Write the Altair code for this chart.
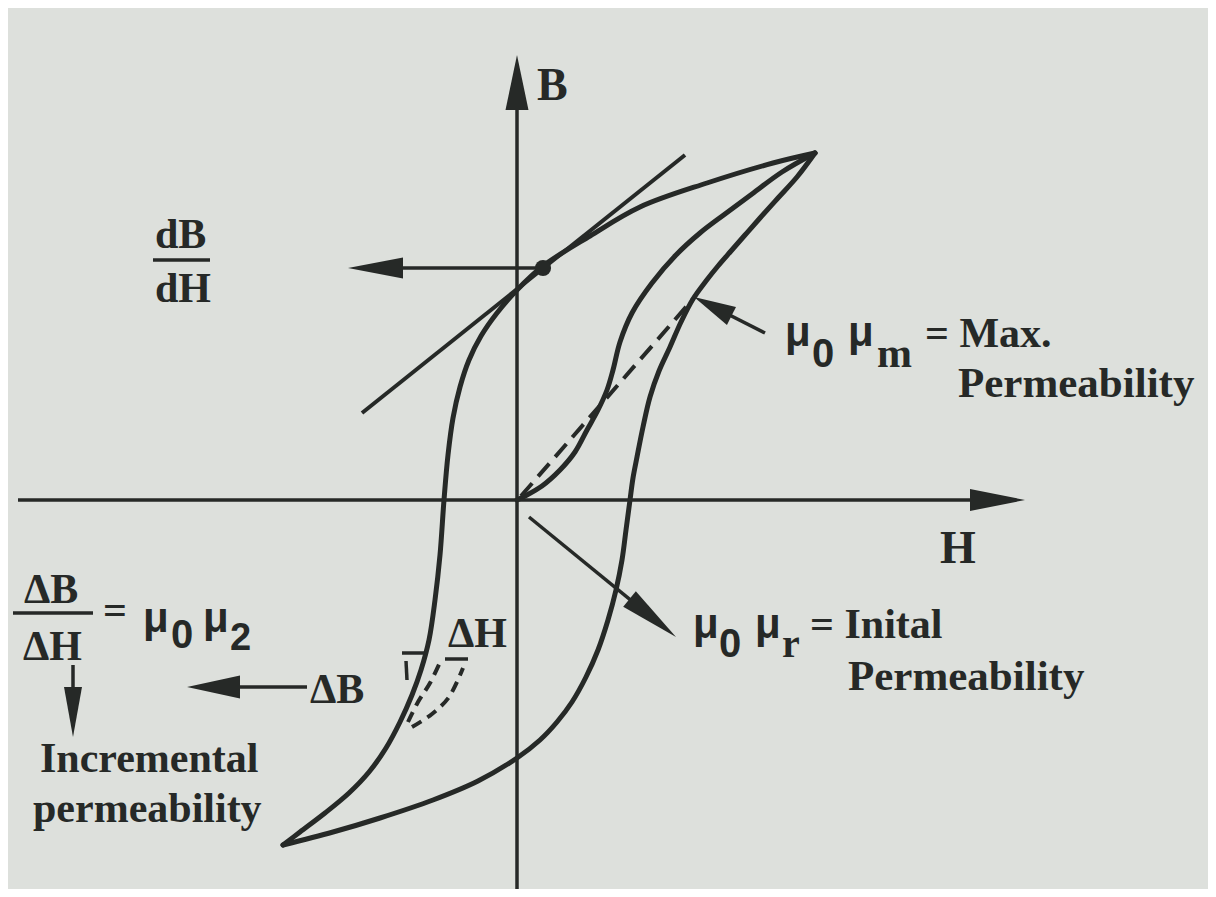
import math
import altair as alt
import pandas as pd

# ---------------- data (H, B) in drawing units ----------------
upper_H = [298, 256, 190, 123, 73, 26, 0, -20, -36, -48, -57, -64, -69, -73, -77, -82, -88, -96, -105, -117, -131, -148, -168, -192, -217, -234]
upper_B = [347, 337, 317, 293, 264, 234, 210, 187, 164, 140, 113, 82, 45, 0, -55, -100, -140, -170, -195, -222, -248, -272, -293, -313, -332, -345]

lower_H = [-234, -184, -137, -84, -39, 0, 23, 40, 55, 69, 81, 91, 99, 105, 109, 113,
           116, 120, 126, 133, 142, 153, 164, 176, 189, 201, 214, 228, 243, 261, 280, 298]
lower_B = [-345, -332, -318, -300, -281, -258, -240, -222, -202, -177, -150, -120, -90, -60, -30, 0,
           22, 43, 73, 103, 129, 153, 178, 201, 219, 234, 249, 265, 282, 302, 323, 347]

initial_H = [0, 8, 25, 43, 58, 70, 81, 90, 96, 103, 115, 135, 159, 183, 208, 235, 265, 298]
initial_B = [0, 4, 14, 30, 48, 70, 90, 110, 130, 158, 187, 217, 245, 267, 286, 306, 328, 347]

maxperm_H = [4, 176]
maxperm_B = [4, 201]

minorA_H = [-109, -99, -87, -76]
minorA_B = [-222, -202, -183, -160]
minorB_H = [-105, -85, -68, -54]
minorB_B = [-227, -214, -197, -168]

tangent_H = [-155, 168]
tangent_B = [87, 345]
dot_H = [26]
dot_B = [232]

# straight strokes: name, H1, B1, H2, B2, width
strokes = [
    ("dH_bar", -364, 240, -307, 240, 3.5),
    ("dBdH_bar", -504, -113, -424, -113, 3.5),
    ("minor_h1", -115, -153, -92, -153, 3.5),
    ("minor_v1", -111, -161, -110, -180, 3.5),
    ("minor_h2", -72, -159, -49, -159, 3.5),
]

# arrows: name, tail H, tail B, tip H, tip B, head length, head width, shaft width
arrows = [
    ("B_axis", 0, -389, 0, 445, 55, 23, 3.5),
    ("H_axis", -499, 0, 508, 0, 55, 22, 3.5),
    ("dBdH", 26, 232, -169, 232, 55, 21, 3.5),
    ("mu_r", 12, -17, 159, -137, 60, 20, 3.5),
    ("mu_m", 248, 167, 177, 203, 42, 20, 3.5),
    ("delta_B", -210, -187, -330, -187, 53, 23, 3.5),
    ("incr", -444, -165, -444, -237, 50, 18, 3.5),
]

# text: string, H (left), B (baseline), size
serif_text = [
    ("B", 20, 400, 46),
    ("H", 423, -63, 46),
    ("dB", -362, 252, 42),
    ("dH", -362, 198, 42),
    ("= Max.", 408, 153, 42),
    ("Permeability", 441, 103, 43),
    ("= Inital", 293, -138, 42),
    ("Permeability", 331, -190, 43),
    ("=", -414, -124, 42),
    ("ΔB", -493, -103, 42),
    ("ΔH", -494, -160, 42),
    ("ΔB", -207, -203, 42),
    ("ΔH", -69, -147, 42),
    ("Incremental", -477, -272, 42),
    ("permeability", -484, -322, 42),
    ("m", 360, 133, 42),
    ("r", 265, -157, 40),
]
sans_text = [
    ("μ", 268, 154, 42), ("0", 295, 133, 40), ("μ", 331, 154, 42),
    ("μ", 176, -138, 42), ("0", 202, -157, 40), ("μ", 238, -138, 42),
    ("μ", -374, -132, 42), ("0", -346, -148, 40), ("μ", -314, -132, 42), ("2", -287, -150, 38),
]

# ---------------- build tables ----------------
INK = "#262927"
PAPER = "#dde0dc"
XS = alt.Scale(domain=[-509, 691], nice=False, zero=False)
YS = alt.Scale(domain=[-389, 492], nice=False, zero=False)

def curve_rows(name, hs, bs):
    return [{"seg": name, "i": k, "H": h, "B": b} for k, (h, b) in enumerate(zip(hs, bs))]

curves = pd.DataFrame(
    curve_rows("upper", upper_H, upper_B)
    + curve_rows("lower", lower_H, lower_B)
    + curve_rows("initial", initial_H, initial_B)
)
dashed = pd.DataFrame(
    curve_rows("minorA", minorA_H, minorA_B)
    + curve_rows("minorB", minorB_H, minorB_B)
)
maxperm = pd.DataFrame(curve_rows("maxperm", maxperm_H, maxperm_B))

line_rows = []
line_rows += [dict(r, w=4.0) for r in curve_rows("tangent", tangent_H, tangent_B)]
for name, h1, b1, h2, b2, w in strokes:
    line_rows += [{"seg": name, "i": 0, "H": h1, "B": b1, "w": w},
                  {"seg": name, "i": 1, "H": h2, "B": b2, "w": w}]
head_rows = []
for name, th, tb, hh, hb, L, W, w in arrows:
    dh, db = hh - th, hb - tb
    d = math.hypot(dh, db)
    eh, eb = hh - dh / d * L * 0.5, hb - db / d * L * 0.5
    line_rows += [{"seg": name, "i": 0, "H": th, "B": tb, "w": w},
                  {"seg": name, "i": 1, "H": eh, "B": eb, "w": w}]
    ang = math.degrees(math.atan2(dh, db)) % 360
    r = W / L
    head_rows.append({"H": hh, "B": hb, "ang": ang, "size": L * L,
                      "shape": f"M0,0L{r:.3f},2L{-r:.3f},2Z"})
lines = pd.DataFrame(line_rows)
heads = pd.DataFrame(head_rows)
dots = pd.DataFrame({"H": dot_H, "B": dot_B})
serif_df = pd.DataFrame(serif_text, columns=["t", "H", "B", "s"])
sans_df = pd.DataFrame(sans_text, columns=["t", "H", "B", "s"])

x = alt.X("H:Q", scale=XS, axis=None)
y = alt.Y("B:Q", scale=YS, axis=None)

curve_layer = alt.Chart(curves).mark_line(
    color=INK, strokeWidth=5, interpolate="catmull-rom", strokeCap="round", strokeJoin="round"
).encode(x=x, y=y, detail="seg:N", order="i:Q")

dashed_layer = alt.Chart(dashed).mark_line(
    color=INK, strokeWidth=4, interpolate="catmull-rom", strokeDash=[11, 7]
).encode(x=x, y=y, detail="seg:N", order="i:Q")

maxperm_layer = alt.Chart(maxperm).mark_line(
    color=INK, strokeWidth=4, strokeDash=[17, 9]
).encode(x=x, y=y, detail="seg:N", order="i:Q")

line_layer = alt.Chart(lines).mark_line(color=INK).encode(
    x=x, y=y, detail="seg:N", order="i:Q",
    strokeWidth=alt.StrokeWidth("w:Q", scale=None),
)

head_layer = alt.Chart(heads).mark_point(
    filled=True, color=INK, opacity=1, strokeWidth=0
).encode(
    x=x, y=y,
    shape=alt.Shape("shape:N", scale=None),
    size=alt.Size("size:Q", scale=None),
    angle=alt.Angle("ang:Q", scale=None),
)

dot_layer = alt.Chart(dots).mark_circle(color=INK, opacity=1, size=260).encode(x=x, y=y)

serif_layer = alt.Chart(serif_df).mark_text(
    font="Liberation Serif", fontWeight="bold", align="left", baseline="alphabetic", color=INK
).encode(x=x, y=y, text="t:N", size=alt.Size("s:Q", scale=None))

sans_layer = alt.Chart(sans_df).mark_text(
    font="Liberation Sans", fontWeight="bold", align="left", baseline="alphabetic", color=INK
).encode(x=x, y=y, text="t:N", size=alt.Size("s:Q", scale=None))

chart = alt.layer(
    curve_layer, dashed_layer, maxperm_layer, line_layer, head_layer, dot_layer,
    serif_layer, sans_layer,
).properties(
    width=1200, height=881, background=PAPER, padding=0,
    autosize=alt.AutoSizeParams(type="none"),
).configure_view(stroke=None)

chart.save("out.html", embed_options={"renderer": "svg", "actions": False})
